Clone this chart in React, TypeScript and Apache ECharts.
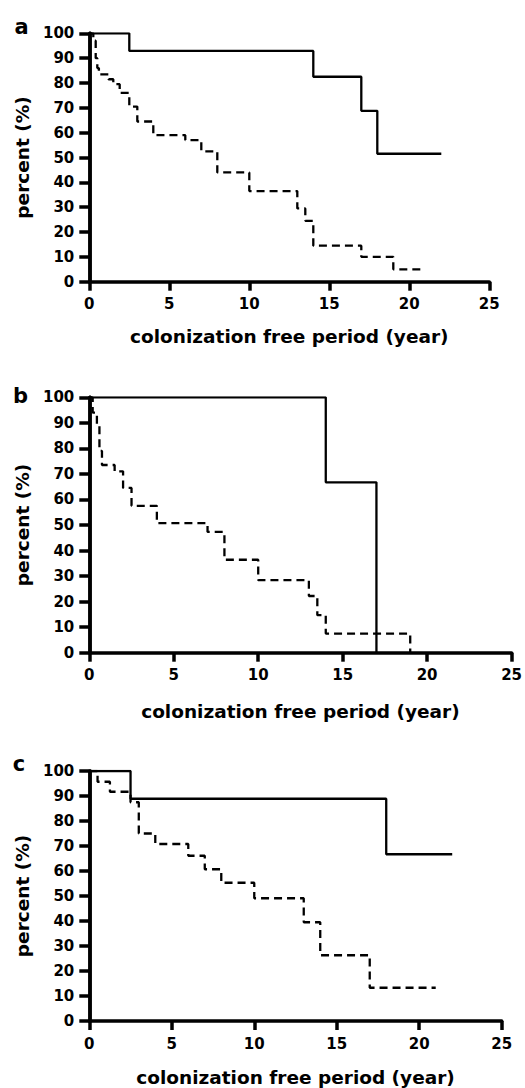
import React, { useEffect, useRef } from "react";
import * as echarts from "echarts";

// ---- data ----
const PANEL_LABELS = ["a", "b", "c"];
const X_NAME = "colonization free period (year)";
const Y_NAME = "percent (%)";
const X_TICKS = { min: 0, max: 25, interval: 5 };
const Y_TICKS = { min: 0, max: 100, interval: 10 };

// panel a
const A_SOLID: [number, number][] = [
  [0, 100], [2.5, 92.9], [14, 82.5], [17, 68.8], [18, 51.5], [22, 51.5],
];
const A_DASHED: [number, number][] = [
  [0, 100], [0.25, 97], [0.4, 90], [0.5, 86], [0.6, 83.5], [1.2, 81.5], [1.5, 79.5],
  [1.9, 76], [2.5, 70.5], [3, 64.5], [4, 59], [6, 57], [7, 52.5], [8, 44],
  [10, 36.5], [13, 29.5], [13.5, 24.5], [14, 14.5], [17, 10], [19, 5], [21, 5],
];
// panel b
const B_SOLID: [number, number][] = [[0, 100], [14, 66.7], [17, 0]];
const B_DASHED: [number, number][] = [
  [0, 100], [0.2, 94], [0.45, 89], [0.6, 79], [0.75, 73.5], [1.5, 71], [2, 64.5],
  [2.5, 57.5], [4, 50.7], [7, 47.3], [8, 36.4], [10, 28.4], [13, 22.2], [13.5, 14.7],
  [14, 7.5], [19, 0],
];
// panel c
const C_SOLID: [number, number][] = [[0, 100], [2.5, 88.9], [18, 66.7], [22, 66.7]];
const C_DASHED: [number, number][] = [
  [0, 100], [0.5, 95.7], [1.25, 91.7], [2.5, 87.5], [3, 75], [4, 70.8], [6, 66.1],
  [7, 60.7], [8, 55.3], [10, 49.1], [13, 39.5], [14, 26.3], [17, 13.3], [21, 13.3],
];

const SOLID = [A_SOLID, B_SOLID, C_SOLID];
const DASHED = [A_DASHED, B_DASHED, C_DASHED];

// ---- layout / style ----
const GRIDS = [
  { left: 89.3, top: 33.3, width: 400, height: 248.4, ext: 12, xGap: 45 },
  { left: 89.3, top: 397.3, width: 424, height: 255.4, ext: 14, xGap: 49 },
  { left: 89.3, top: 771, width: 412.4, height: 250.7, ext: 14, xGap: 47 },
];
const LABEL_POS = [
  { x: 21.5, y: 27 },
  { x: 20.5, y: 396 },
  { x: 19, y: 764 },
];
const FONT = "DejaVu Sans";
const AXIS_W = 3.5;

export default function App() {
  const ref = useRef<HTMLDivElement>(null);
  useEffect(() => {
    if (!ref.current) return;
    const chart = echarts.init(ref.current, null, { renderer: "svg" });
    const mkLine = () => ({ show: true, lineStyle: { color: "#000", width: AXIS_W } });
    const tickLabel = {
      color: "#000",
      fontWeight: "bold",
      fontSize: 15,
      fontFamily: FONT,
    };
    const nameStyle = {
      color: "#000",
      fontWeight: "bold",
      fontSize: 18.5,
      fontFamily: FONT,
    };
    const xAxis: any[] = [];
    const yAxis: any[] = [];
    const series: any[] = [];
    GRIDS.forEach((g, i) => {
      xAxis.push({
        type: "value",
        gridIndex: i,
        ...X_TICKS,
        axisLine: mkLine(),
        axisTick: { show: true, length: 9, lineStyle: { color: "#000", width: AXIS_W } },
        axisLabel: { ...tickLabel, margin: 15 },
        splitLine: { show: false },
        name: X_NAME,
        nameLocation: "middle",
        nameGap: g.xGap,
        nameTextStyle: nameStyle,
      });
      yAxis.push({
        type: "value",
        gridIndex: i,
        ...Y_TICKS,
        axisLine: mkLine(),
        axisTick: { show: true, length: 10, lineStyle: { color: "#000", width: AXIS_W } },
        axisLabel: { ...tickLabel, margin: 15 },
        splitLine: { show: false },
      });
      // decorative axis extending the y-axis line above 100
      yAxis.push({
        type: "value",
        gridIndex: i,
        min: 0,
        max: (100 * (g.height + g.ext)) / g.height,
        position: "left",
        axisLine: mkLine(),
        axisTick: { show: false },
        axisLabel: { show: false },
        splitLine: { show: false },
        name: Y_NAME,
        nameLocation: "middle",
        nameGap: 57,
        nameTextStyle: nameStyle,
      });
      series.push({
        type: "line",
        xAxisIndex: i,
        yAxisIndex: i * 2,
        step: "end",
        symbol: "none",
        data: DASHED[i],
        lineStyle: { color: "#000", width: 2.3, type: [8, 5] },
      });
      series.push({
        type: "line",
        xAxisIndex: i,
        yAxisIndex: i * 2,
        step: "end",
        symbol: "none",
        data: SOLID[i],
        lineStyle: { color: "#000", width: 2.3, type: "solid" },
      });
    });
    chart.setOption({
      animation: false,
      backgroundColor: "#fff",
      textStyle: { fontFamily: FONT },
      grid: GRIDS.map((g) => ({
        left: g.left,
        top: g.top,
        width: g.width,
        height: g.height,
      })),
      xAxis,
      yAxis,
      series,
      graphic: PANEL_LABELS.map((t, i) => ({
        type: "text",
        x: LABEL_POS[i].x,
        y: LABEL_POS[i].y,
        style: {
          text: t,
          fill: "#000",
          font: `bold 21px ${FONT}`,
          align: "center",
          verticalAlign: "middle",
        },
      })),
    });
    return () => chart.dispose();
  }, []);
  return (
    <div
      ref={ref}
      style={{ position: "absolute", left: 0, top: 0, width: 525, height: 1088 }}
    />
  );
}
